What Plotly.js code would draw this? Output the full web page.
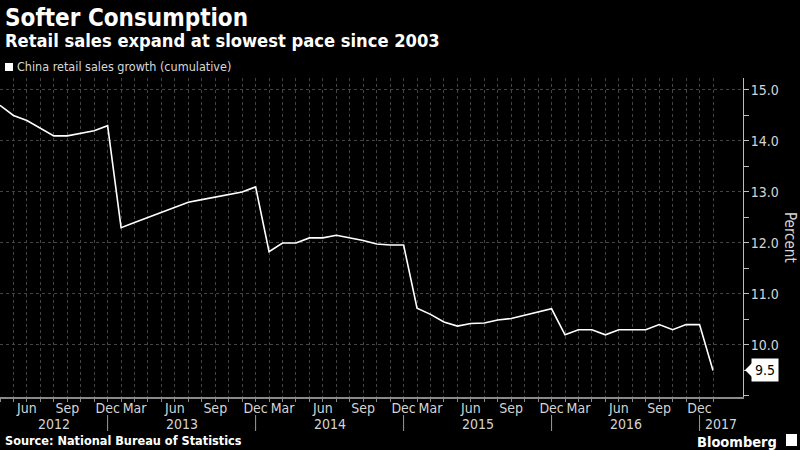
<!DOCTYPE html>
<html>
<head>
<meta charset="utf-8">
<script src="https://cdn.plot.ly/plotly-3.0.1.min.js"></script>
<style>
  html, body { margin:0; padding:0; background:#000; }
  #chart { width:800px; height:450px; }
</style>
</head>
<body>
<div id="chart"></div>
<script>
// ---- data ----
const categories = [
  "2012-04","2012-05","2012-06","2012-07","2012-08","2012-09","2012-10","2012-11","2012-12",
  "2013-02","2013-03","2013-04","2013-05","2013-06","2013-07","2013-08","2013-09","2013-10","2013-11","2013-12",
  "2014-02","2014-03","2014-04","2014-05","2014-06","2014-07","2014-08","2014-09","2014-10","2014-11","2014-12",
  "2015-02","2015-03","2015-04","2015-05","2015-06","2015-07","2015-08","2015-09","2015-10","2015-11","2015-12",
  "2016-02","2016-03","2016-04","2016-05","2016-06","2016-07","2016-08","2016-09","2016-10","2016-11","2016-12",
  "2017-02"
];
const retailGrowth = [
  14.7, 14.5, 14.4, 14.25, 14.1, 14.1, 14.15, 14.2, 14.3,
  12.3, 12.4, 12.5, 12.6, 12.7, 12.8, 12.85, 12.9, 12.95, 13.0, 13.1,
  11.83, 12.0, 12.0, 12.1, 12.1, 12.15, 12.1, 12.05, 11.98, 11.96, 11.96,
  10.72, 10.6, 10.45, 10.37, 10.42, 10.43, 10.49, 10.52, 10.58, 10.64, 10.71,
  10.2, 10.3, 10.3, 10.2, 10.3, 10.3, 10.3, 10.4, 10.3, 10.4, 10.4,
  9.5
];
const monthNames = {"03":"Mar","06":"Jun","09":"Sep","12":"Dec"};
const yTicks = [10, 11, 12, 13, 14, 15];
const seriesName = "China retail sales growth (cumulative)";
const titleText = "Softer Consumption";
const subtitleText = "Retail sales expand at slowest pace since 2003";
const sourceText = "Source: National Bureau of Statistics";
const lastLabel = "9.5";

// ---- layout geometry ----
const W = 800, H = 450;
const M = {l:0, r:57, t:78, b:53};
const PW = W - M.l - M.r, PH = H - M.t - M.b;
const px = x => (x - M.l) / PW;
const py = y => (H - M.b - y) / PH;
const xMax = 55.23;

const tickText = categories.map(c => monthNames[c.slice(5)] || "");

// year separators at each December, year labels centered between them
const decIdx = categories.map((c,i)=> c.endsWith("-12") ? i : -1).filter(i=>i>=0);
const years = [...new Set(categories.map(c=>c.slice(0,4)))];
const bounds = [0, ...decIdx, xMax];

const font = "DejaVu Sans Condensed, DejaVu Sans, sans-serif";
const tickCol = "#d4d4d4";

const annotations = [
  {text:"<b>"+titleText+"</b>", xref:"paper", yref:"paper", x:px(3), y:py(18), xanchor:"left", yanchor:"middle",
   showarrow:false, font:{family:font, size:24, color:"#ffffff"}},
  {text:"<b>"+subtitleText+"</b>", xref:"paper", yref:"paper", x:px(3), y:py(41), xanchor:"left", yanchor:"middle",
   showarrow:false, font:{family:font, size:18.2, color:"#ffffff"}},
  {text:seriesName, xref:"paper", yref:"paper", x:px(15), y:py(67), xanchor:"left", yanchor:"middle",
   showarrow:false, font:{family:font, size:12.5, color:"#d8d8d8"}},
  {text:"<b>"+sourceText+"</b>", xref:"paper", yref:"paper", x:px(3), y:py(440), xanchor:"left", yanchor:"middle",
   showarrow:false, font:{family:font, size:12.6, color:"#ffffff"}},
  {text:"<b>Bloomberg</b>", xref:"paper", yref:"paper", x:px(779), y:py(441.5), xanchor:"right", yanchor:"middle",
   showarrow:false, font:{family:font, size:14.5, color:"#ffffff"}},
  {text:"Percent", xref:"paper", yref:"paper", x:px(790), y:py(237), xanchor:"center", yanchor:"middle",
   textangle:90, showarrow:false, font:{family:font, size:15, color:tickCol}},
  {text:lastLabel, xref:"paper", yref:"y", x:px(751), y:retailGrowth[retailGrowth.length-1], xanchor:"left", yanchor:"middle",
   showarrow:false, bgcolor:"#ffffff", borderpad:3, font:{family:font, size:14, color:"#000000"}}
];
years.forEach((yr, k) => {
  const a = bounds[k], b = bounds[k+1];
  annotations.push({text:yr, xref:"x", yref:"paper", x:(a+b)/2, y:py(424), xanchor:"center", yanchor:"middle",
    showarrow:false, font:{family:font, size:14, color:tickCol}});
});

const shapes = [
  // legend square
  {type:"rect", xref:"paper", yref:"paper", x0:px(5), x1:px(13), y0:py(71), y1:py(63), fillcolor:"#ffffff", line:{width:0}},
  // pointer for last value label
  {type:"path", xref:"paper", yref:"paper",
   path:`M ${px(745)} ${py(370)} L ${px(752)} ${py(363)} L ${px(752)} ${py(377)} Z`, fillcolor:"#ffffff", line:{width:0}},
  // Bloomberg icon
  {type:"rect", xref:"paper", yref:"paper", x0:px(786), x1:px(797), y0:py(446), y1:py(434), fillcolor:"#ffffff", line:{width:0}}
];
decIdx.forEach(i => shapes.push({type:"line", xref:"x", yref:"paper", x0:i, x1:i, y0:py(415), y1:py(431),
  line:{color:"#9a9a9a", width:1}}));

const trace = {
  x: categories, y: retailGrowth, type:"scatter", mode:"lines", name:seriesName,
  line:{color:"#ffffff", width:1.6}, hoverinfo:"skip"
};

const layout = {
  width:W, height:H, margin:M,
  paper_bgcolor:"#000000", plot_bgcolor:"#000000",
  showlegend:false,
  font:{family:font, color:tickCol},
  xaxis:{
    type:"category", range:[0, xMax], tickvals:categories, ticktext:tickText,
    showgrid:true, gridcolor:"#444444", griddash:"dot", gridwidth:1,
    showline:true, linecolor:"#8a8a8a", linewidth:2,
    ticks:"outside", ticklen:3, tickcolor:"#8a8a8a", tickwidth:1, ticklabelstandoff:-6,
    tickfont:{family:font, size:14, color:tickCol}, tickangle:0, zeroline:false, fixedrange:true
  },
  yaxis:{
    side:"right", range:[8.98, 15.235], tickvals:yTicks, ticktext:yTicks.map(v=>v.toFixed(1)),
    showgrid:true, gridcolor:"#444444", griddash:"dot", gridwidth:1,
    showline:true, linecolor:"#bdbdbd", linewidth:1,
    ticks:"outside", ticklen:5, tickcolor:"#bdbdbd", ticklabelstandoff:-1,
    minor:{dtick:0.5, tick0:9, ticks:"outside", ticklen:5, tickcolor:"#bdbdbd", showgrid:false},
    tickfont:{family:font, size:14, color:tickCol}, zeroline:false, fixedrange:true
  },
  annotations, shapes
};

Plotly.newPlot("chart", [trace], layout, {displayModeBar:false, staticPlot:true});
</script>
</body>
</html>
